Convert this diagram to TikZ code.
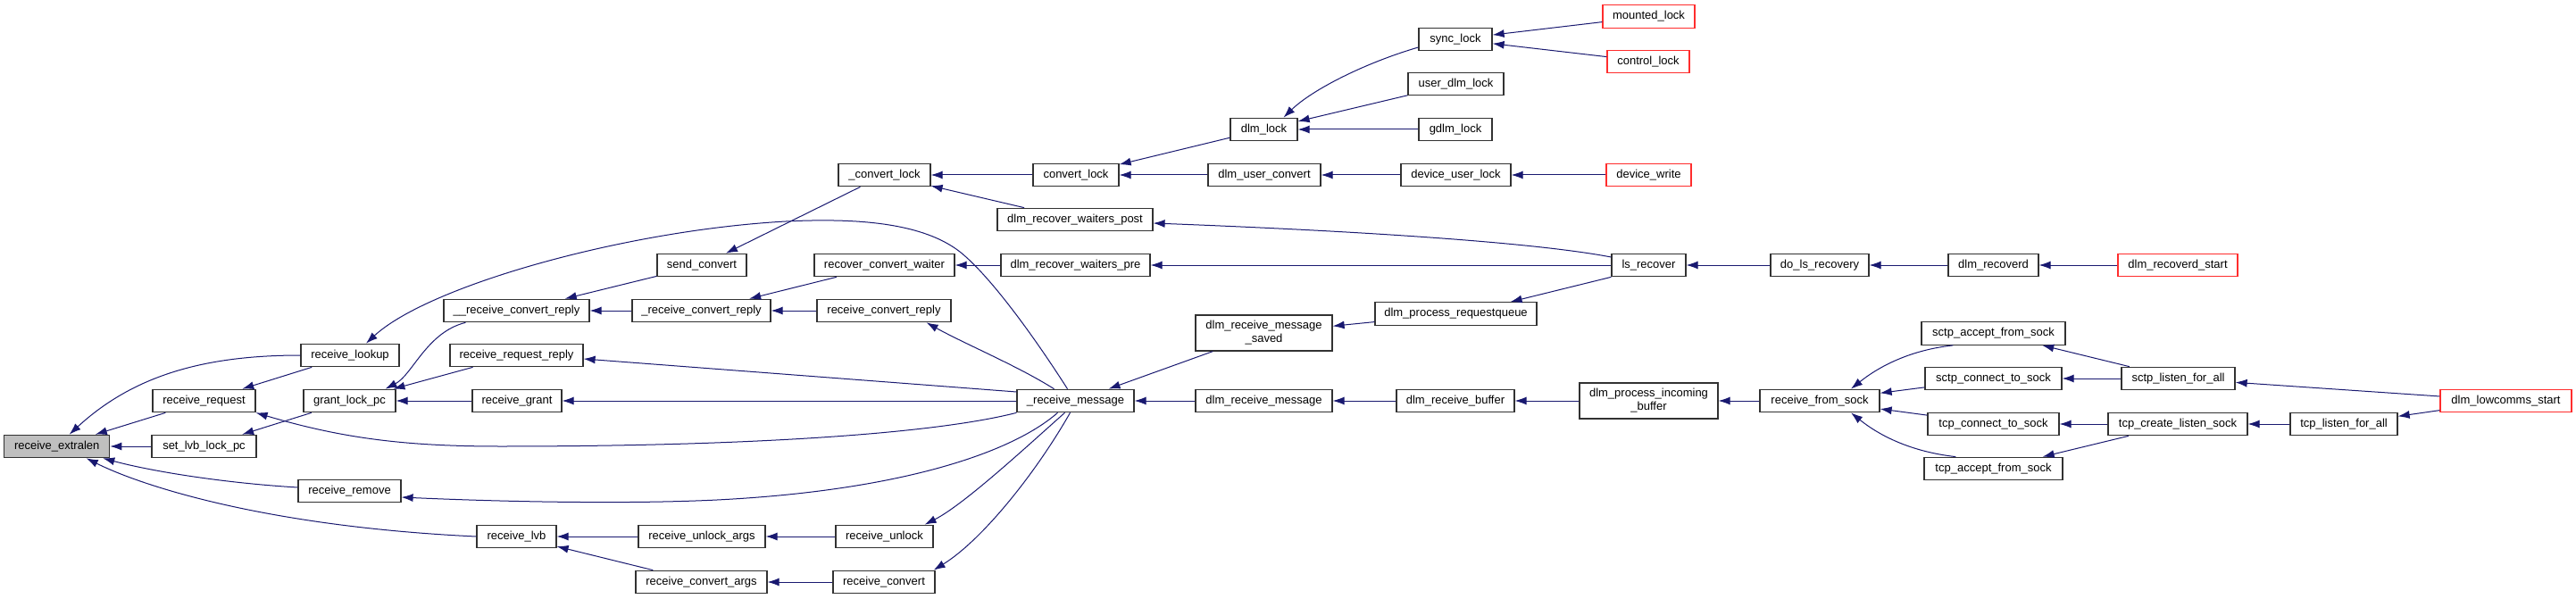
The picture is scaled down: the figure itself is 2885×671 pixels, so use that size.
\documentclass[tikz,border=0pt]{standalone}
\usepackage{fontspec}
\setmainfont{Liberation Sans}
\usepackage{xcolor}
\usepackage{tikz}
\usetikzlibrary{
    arrows.meta
}
\definecolor{edgeBlue}{RGB}{25,25,112}
\definecolor{boxGrey}{RGB}{50,50,50}
\definecolor{rootGrey}{RGB}{191,191,191}
\definecolor{truncRed}{RGB}{255,45,45}

\begin{document}
\begin{tikzpicture}[
    x=1pt,
    y=-1pt,
    >={Latex[length=13pt,width=9pt]},
    fnbase/.style={
        rectangle,
        draw=boxGrey,
        line width=1.2pt,
        fill=white,
        inner sep=0pt,
        minimum height=25.5pt,
        font=\fontsize{13}{15}\selectfont
    },
    fnbox/.style={
        fnbase,
        text height=9.4pt,
        text depth=2.6pt
    },
    fnroot/.style={
        fnbox,
        fill=rootGrey
    },
    fntrunc/.style={
        fnbox,
        draw=truncRed
    },
    fntwo/.style={
        fnbase,
        align=center,
        minimum height=40pt
    },
    calledge/.style={
        <-,
        draw=edgeBlue,
        fill=none,
        line width=1pt
    }
]

\path[
    use as bounding box,
    fill=white
]
(0,0) rectangle (2885,671);

% =============================================================
% Functions, column by column from the left
% =============================================================

\node[
    fnroot,
    minimum width=118pt
] (extralen) at (63.7,500)
{receive\_extralen};

\node[
    fnbox,
    minimum width=115pt
] (rcvRequest) at (228.5,449)
{receive\_request};

\node[
    fnbox,
    minimum width=117pt
] (setLvb) at (228.5,500)
{set\_lvb\_lock\_pc};

\node[
    fnbox,
    minimum width=110pt
] (rcvLookup) at (392,398)
{receive\_lookup};

\node[
    fnbox,
    minimum width=103pt
] (grantLock) at (391.5,449)
{grant\_lock\_pc};

\node[
    fnbox,
    minimum width=115pt
] (rcvRemove) at (391.5,550)
{receive\_remove};

\node[
    fnbox,
    minimum width=163pt
] (uuRcvConvReply) at (578.5,348)
{\_\_receive\_convert\_reply};

\node[
    fnbox,
    minimum width=149pt
] (rcvReqReply) at (578.5,398)
{receive\_request\_reply};

\node[
    fnbox,
    minimum width=100pt
] (rcvGrant) at (579,449)
{receive\_grant};

\node[
    fnbox,
    minimum width=89pt
] (rcvLvb) at (578.5,601)
{receive\_lvb};

\node[
    fnbox,
    minimum width=100pt
] (sendConvert) at (786,297)
{send\_convert};

\node[
    fnbox,
    minimum width=155pt
] (uRcvConvReply) at (785.5,348)
{\_receive\_convert\_reply};

\node[
    fnbox,
    minimum width=142pt
] (rcvUnlockArgs) at (786,601)
{receive\_unlock\_args};

\node[
    fnbox,
    minimum width=147pt
] (rcvConvArgs) at (785.5,652)
{receive\_convert\_args};

\node[
    fnbox,
    minimum width=103pt
] (uConvertLock) at (990.5,196)
{\_convert\_lock};

\node[
    fnbox,
    minimum width=157pt
] (recConvWaiter) at (990.5,297)
{recover\_convert\_waiter};

\node[
    fnbox,
    minimum width=150pt
] (rcvConvReply) at (990,348)
{receive\_convert\_reply};

\node[
    fnbox,
    minimum width=109pt
] (rcvUnlock) at (990.5,601)
{receive\_unlock};

\node[
    fnbox,
    minimum width=114pt
] (rcvConvert) at (990,652)
{receive\_convert};

\node[
    fnbox,
    minimum width=96pt
] (convertLock) at (1205,196)
{convert\_lock};

\node[
    fnbox,
    minimum width=174pt
] (recWaitersPost) at (1204,246)
{dlm\_recover\_waiters\_post};

\node[
    fnbox,
    minimum width=167pt
] (recWaitersPre) at (1204.5,297)
{dlm\_recover\_waiters\_pre};

\node[
    fnbox,
    minimum width=131pt
] (uRcvMessage) at (1204.5,449)
{\_receive\_message};

\node[
    fnbox,
    minimum width=75pt
] (dlmLock) at (1415.5,145)
{dlm\_lock};

\node[
    fnbox,
    minimum width=126pt
] (userConvert) at (1416,196)
{dlm\_user\_convert};

\node[
    fntwo,
    minimum width=153pt
] (msgSaved) at (1415.5,373)
{dlm\_receive\_message\\\_saved};

\node[
    fnbox,
    minimum width=153pt
] (rcvMessage) at (1415.5,449)
{dlm\_receive\_message};

\node[
    fnbox,
    minimum width=82pt
] (syncLock) at (1630,44)
{sync\_lock};

\node[
    fnbox,
    minimum width=107pt
] (userDlmLock) at (1630.5,94)
{user\_dlm\_lock};

\node[
    fnbox,
    minimum width=82pt
] (gdlmLock) at (1630,145)
{gdlm\_lock};

\node[
    fnbox,
    minimum width=123pt
] (devUserLock) at (1630.5,196)
{device\_user\_lock};

\node[
    fnbox,
    minimum width=181pt
] (procReqQueue) at (1630.5,351.5)
{dlm\_process\_requestqueue};

\node[
    fnbox,
    minimum width=132pt
] (rcvBuffer) at (1630,449)
{dlm\_receive\_buffer};

\node[
    fntrunc,
    minimum width=103pt
] (mountedLock) at (1846.5,18.5)
{mounted\_lock};

\node[
    fntrunc,
    minimum width=92pt
] (controlLock) at (1846,69)
{control\_lock};

\node[
    fntrunc,
    minimum width=95pt
] (devWrite) at (1846.5,196)
{device\_write};

\node[
    fnbox,
    minimum width=83pt
] (lsRecover) at (1846.5,297)
{ls\_recover};

\node[
    fntwo,
    minimum width=155pt
] (procIncoming) at (1846.5,449)
{dlm\_process\_incoming\\\_buffer};

\node[
    fnbox,
    minimum width=110pt
] (doLsRecovery) at (2038,297)
{do\_ls\_recovery};

\node[
    fnbox,
    minimum width=134pt
] (rcvFromSock) at (2038,449)
{receive\_from\_sock};

\node[
    fnbox,
    minimum width=101pt
] (recoverd) at (2232.5,297)
{dlm\_recoverd};

\node[
    fnbox,
    minimum width=161pt
] (sctpAccept) at (2232.5,373.5)
{sctp\_accept\_from\_sock};

\node[
    fnbox,
    minimum width=153pt
] (sctpConnect) at (2232.5,424)
{sctp\_connect\_to\_sock};

\node[
    fnbox,
    minimum width=147pt
] (tcpConnect) at (2232.5,475)
{tcp\_connect\_to\_sock};

\node[
    fnbox,
    minimum width=155pt
] (tcpAccept) at (2232.5,525)
{tcp\_accept\_from\_sock};

\node[
    fntrunc,
    minimum width=134pt
] (recoverdStart) at (2439,297)
{dlm\_recoverd\_start};

\node[
    fnbox,
    minimum width=127pt
] (sctpListen) at (2439.5,424)
{sctp\_listen\_for\_all};

\node[
    fnbox,
    minimum width=156pt
] (tcpCreateListen) at (2439,475)
{tcp\_create\_listen\_sock};

\node[
    fnbox,
    minimum width=120pt
] (tcpListen) at (2625,475)
{tcp\_listen\_for\_all};

\node[
    fntrunc,
    minimum width=147pt
] (lowcommsStart) at (2806.5,449)
{dlm\_lowcomms\_start};

% =============================================================
% Straight calls (arrow at the called function)
% =============================================================

\foreach \callee/\caller in {
    extralen/rcvRequest, extralen/setLvb,
    rcvRequest/rcvLookup, setLvb/grantLock,
    grantLock/rcvReqReply, grantLock/rcvGrant,
    rcvLvb/rcvUnlockArgs, rcvLvb/rcvConvArgs,
    uuRcvConvReply/sendConvert, uuRcvConvReply/uRcvConvReply,
    rcvGrant/uRcvMessage, sendConvert/uConvertLock,
    uRcvConvReply/recConvWaiter, uRcvConvReply/rcvConvReply,
    rcvUnlockArgs/rcvUnlock, rcvConvArgs/rcvConvert,
    uConvertLock/convertLock, uConvertLock/recWaitersPost,
    recConvWaiter/recWaitersPre, uRcvMessage/msgSaved,
    uRcvMessage/rcvMessage, convertLock/dlmLock,
    convertLock/userConvert, recWaitersPre/lsRecover,
    dlmLock/userDlmLock, dlmLock/gdlmLock,
    userConvert/devUserLock, msgSaved/procReqQueue,
    rcvMessage/rcvBuffer, syncLock/mountedLock,
    syncLock/controlLock, devUserLock/devWrite,
    lsRecover/doLsRecovery, rcvBuffer/procIncoming,
    procIncoming/rcvFromSock, doLsRecovery/recoverd,
    rcvFromSock/sctpConnect, rcvFromSock/tcpConnect,
    recoverd/recoverdStart, sctpAccept/sctpListen,
    sctpConnect/sctpListen, tcpConnect/tcpCreateListen,
    tcpAccept/tcpCreateListen, sctpListen/lowcommsStart,
    tcpCreateListen/tcpListen, tcpListen/lowcommsStart}{
    \draw[calledge] (\callee) -- (\caller);
}

\draw[calledge]
([yshift=-4pt]rcvReqReply.east) -- ([yshift=10pt]uRcvMessage.west);

\draw[calledge]
([xshift=-30pt]procReqQueue.north east) -- (lsRecover.south west);

% =============================================================
% Curved calls
% =============================================================

% callers of receive_extralen
\draw[calledge]
([xshift=14pt]extralen.north)
.. controls (150,420) and (230,398) ..
(rcvLookup.west);

\draw[calledge]
([xshift=-8pt]extralen.south east)
.. controls (170,528) and (250,541) ..
([yshift=4pt]rcvRemove.west);

\draw[calledge]
([xshift=33pt]extralen.south)
.. controls (160,545) and (300,590) ..
(rcvLvb.west);

\draw[calledge]
([xshift=40pt]grantLock.north)
.. controls (462,420) and (478,372) ..
([xshift=25pt]uuRcvConvReply.south west);

% calls out of _receive_message
\draw[calledge]
(rcvRequest.south east)
.. controls (380,490) and (450,500) .. (560,500)
.. controls (850,500) and (1050,485) ..
(uRcvMessage.south west);

\draw[calledge]
([xshift=18pt]rcvLookup.north)
.. controls (480,320) and (700,258) .. (880,248)
.. controls (980,243) and (1040,255) .. (1075,282)
.. controls (1110,310) and (1160,380) ..
([xshift=-9pt]uRcvMessage.north);

\draw[calledge]
([yshift=-7pt]rcvRemove.east)
.. controls (560,562) and (700,565) .. (803,560)
.. controls (1000,550) and (1130,510) ..
([xshift=-20pt]uRcvMessage.south);

\draw[calledge]
([xshift=-28pt]rcvConvReply.south east)
.. controls (1080,385) and (1140,410) ..
([xshift=-24pt]uRcvMessage.north);

\draw[calledge]
([xshift=-10pt]rcvUnlock.north east)
.. controls (1080,565) and (1150,500) ..
([xshift=-12pt]uRcvMessage.south);

\draw[calledge]
([xshift=-2pt]rcvConvert.north east)
.. controls (1100,605) and (1160,530) ..
([xshift=-6pt]uRcvMessage.south);

% recovery and locking side
\draw[calledge]
([yshift=-4pt]recWaitersPost.east)
.. controls (1450,256) and (1700,268) ..
([yshift=9pt]lsRecover.west);

\draw[calledge]
([xshift=22pt]dlmLock.north)
.. controls (1470,100) and (1530,70) ..
([yshift=-9pt]syncLock.west);

% socket side
\draw[calledge]
([xshift=35pt]rcvFromSock.north)
.. controls (2105,410) and (2140,392) ..
([xshift=36pt]sctpAccept.south west);

\draw[calledge]
([xshift=35pt]rcvFromSock.south)
.. controls (2105,488) and (2140,506) ..
([xshift=36pt]tcpAccept.north west);

\end{tikzpicture}
\end{document}
